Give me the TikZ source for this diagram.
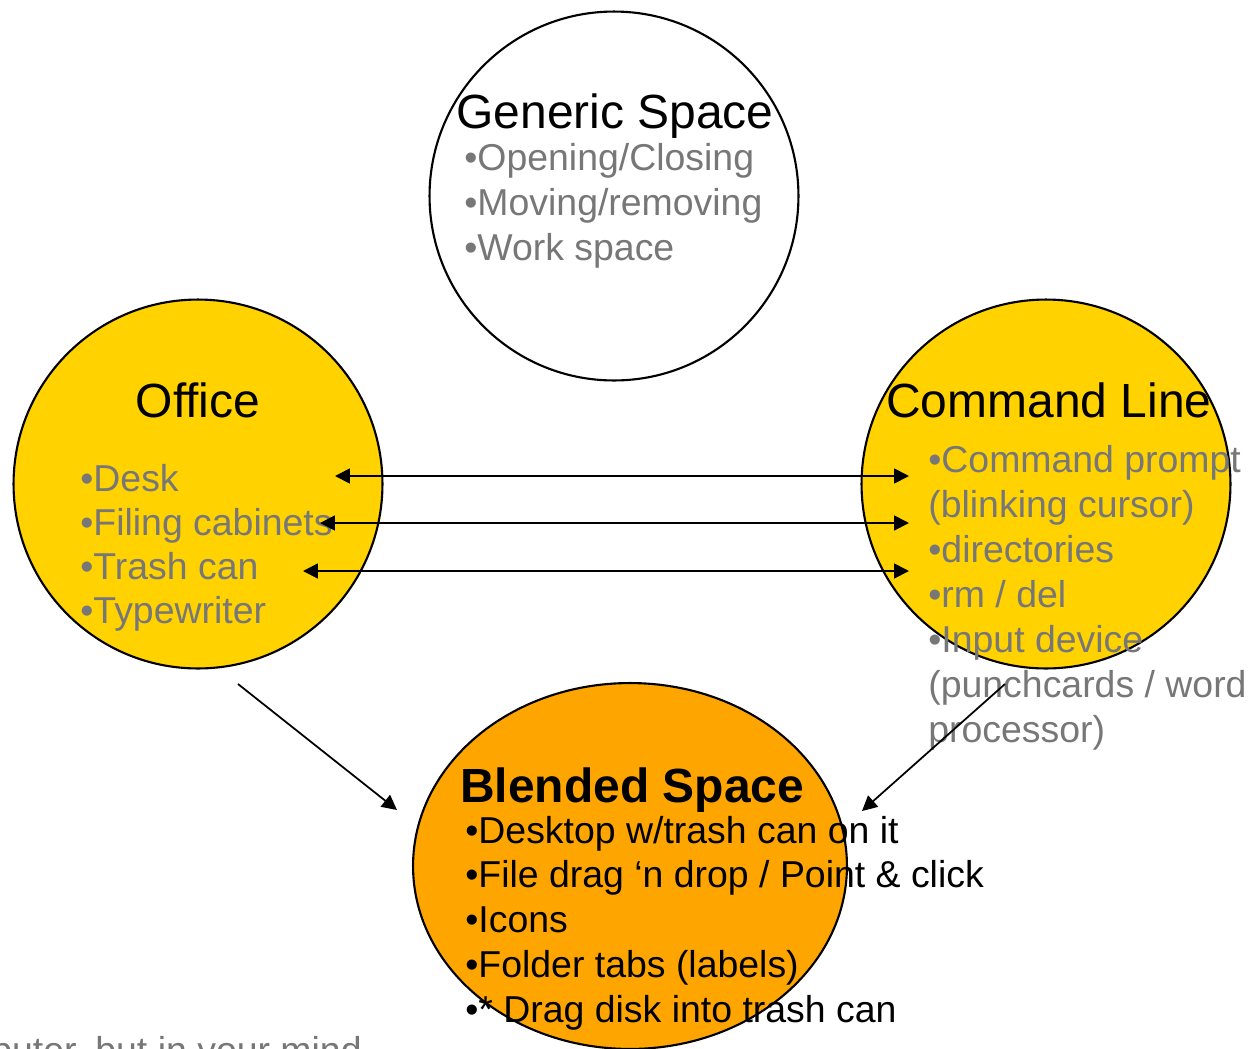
\documentclass[tikz,border=0pt]{standalone}
\usepackage{fontspec}
\setmainfont{Liberation Sans}
\usetikzlibrary{arrows.meta,shapes.geometric}
\definecolor{OfficeClr}{RGB}{255,210,0}
\definecolor{BlendClr}{RGB}{255,165,0}
\definecolor{ItemClr}{RGB}{119,119,119}

\tikzset{
  spacecirc/.style={circle,draw=black,line width=1.2pt,minimum size=7.38cm,inner sep=0pt},
  spacetitle/.style={font=\fontsize{27.3}{32}\selectfont,inner sep=0pt,anchor=base west},
  spaceitem/.style={font=\fontsize{21.3}{25}\selectfont,text=ItemClr,inner sep=0pt,anchor=base west},
  mapping/.style={line width=1pt},
  >={Triangle[length=8.5pt,width=8.5pt]}
}

\begin{document}
\begin{tikzpicture}[x=0.02cm,y=-0.02cm]
\useasboundingbox (0,0) rectangle (1249,1049);
\clip (0,0) rectangle (1249,1049);

\node[spacecirc] (generic) at (614,196) {};
\node[spacecirc,fill=OfficeClr] (office) at (198,484) {};
\node[spacecirc,fill=OfficeClr] (cmdline) at (1046,484) {};
\node[ellipse,draw=black,line width=1.2pt,fill=BlendClr,minimum width=8.68cm,
      minimum height=7.32cm,inner sep=0pt] (blended) at (630,866) {};

\node[spacetitle] (generic-t) at (456,128) {Generic Space};
\node[spacetitle,anchor=base] (office-t) at (198,417) {Office};
\node[spacetitle] (cmdline-t) at (886,417) {Command Line};
\node[spacetitle,font=\fontsize{27.3}{32}\selectfont\bfseries] (blended-t) at (460,802) {Blended Space};

\foreach \txt [count=\i from 0] in {Opening/Closing,Moving/removing,Work space}
  \node[spaceitem] (generic-\i) at (464,170+45*\i) {•\txt};

\foreach \txt [count=\i from 0] in {Desk,Filing cabinets,Trash can,Typewriter}
  \node[spaceitem] (office-\i) at (80,491+44.3*\i) {•\txt};

\foreach \txt [count=\i from 0] in {•Command prompt,{(blinking cursor)},•directories,•rm / del,
    •Input device,{(punchcards / word},{processor)}}
  \node[spaceitem] (cmdline-\i) at (928,472+45*\i) {\txt};

\foreach \txt [count=\i from 0] in {Desktop w/trash can on it,File drag ‘n drop / Point \& click,
    Icons,Folder tabs (labels),* Drag disk into trash can}
  \node[spaceitem,text=black] (blended-\i) at (465,843+44.8*\i) {•\txt};

\node[spaceitem] (caption) at (-9,1063) {puter, but in your mind};

\foreach \y/\xl [count=\i] in {476/335,523/320,571/303} {
  \coordinate (off-\i) at (\xl,\y);
  \coordinate (cmd-\i) at (909,\y);
  \draw[mapping,<->] (off-\i) -- (cmd-\i);
}

\coordinate (office-out) at (238,684);
\coordinate (blend-in-l) at (397,810);
\coordinate (cmdline-out) at (1005,684);
\coordinate (blend-in-r) at (862,811);
\draw[mapping,->] (office-out) -- (blend-in-l);
\draw[mapping,->] (cmdline-out) -- (blend-in-r);

\end{tikzpicture}
\end{document}
